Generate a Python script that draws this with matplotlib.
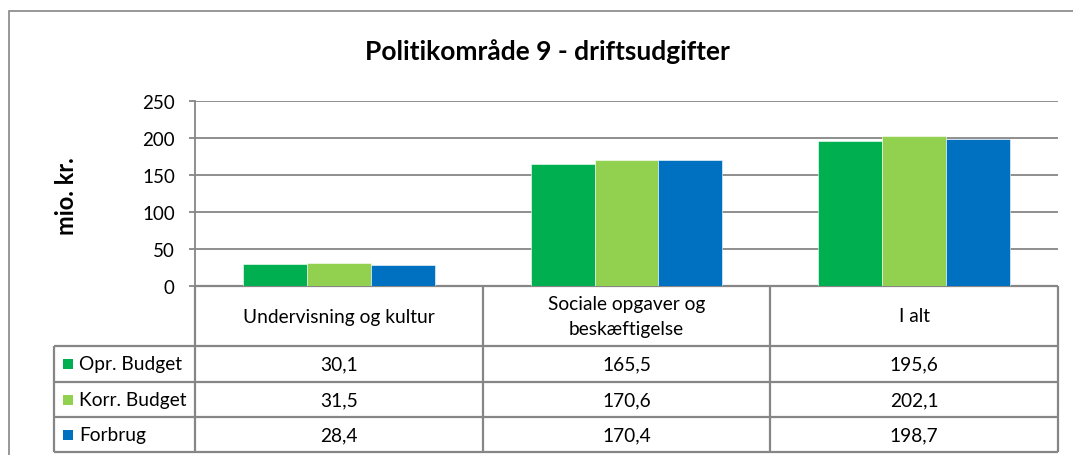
import matplotlib
matplotlib.use("Agg")
import matplotlib.pyplot as plt
import matplotlib.patches as mpatches
from matplotlib.transforms import blended_transform_factory
import numpy as np

# ── data ────────────────────────────────────────────────────────────────────
categories = ["Undervisning og kultur", "Sociale opgaver og\nbeskæftigelse", "I alt"]
series_names = ["Opr. Budget", "Korr. Budget", "Forbrug"]
opr_budget = [30.1, 165.5, 195.6]
korr_budget = [31.5, 170.6, 202.1]
forbrug = [28.4, 170.4, 198.7]
y_ticks = [0, 50, 100, 150, 200, 250]

title = "Politikområde 9 - driftsudgifter"
y_label = "mio. kr."

# ── style ───────────────────────────────────────────────────────────────────
COLORS = ["#00B050", "#92D050", "#0070C0"]
LINE_C = "#868686"
FONT = ["Lato", "DejaVu Sans"]
plt.rcParams["font.family"] = FONT
TXT = 13.8

W, H = 1073, 456
fig = plt.figure(figsize=(W / 100, H / 100), dpi=100)
fig.patch.set_facecolor("white")


def fx(px):
    return px / W


def fy(py):
    return 1 - py / H


# plot area in pixels
L, R, T, B = 195, 1058, 102, 287
ax = fig.add_axes([fx(L), fy(B), fx(R - L), (B - T) / H])

n_cat = len(categories)
x = np.arange(n_cat)
bw = 1 / 4.5
all_series = [opr_budget, korr_budget, forbrug]
for i, (vals, col) in enumerate(zip(all_series, COLORS)):
    ax.bar(x + (i - 1) * bw, vals, width=bw, color=col,
           edgecolor="white", linewidth=0.4, zorder=3)

ax.set_xlim(-0.5, n_cat - 0.5)
ax.set_ylim(0, 250)
ax.set_yticks(y_ticks)
ax.set_yticklabels([str(t) for t in y_ticks], fontsize=13.5)
ax.set_xticks([])
ax.yaxis.grid(True, color=LINE_C, linewidth=1.3, zorder=0)
ax.tick_params(axis="y", length=4.5, width=1.3, color=LINE_C, pad=10)
for s in ["top", "right", "bottom"]:
    ax.spines[s].set_visible(False)
ax.spines["left"].set_color(LINE_C)
ax.spines["left"].set_linewidth(1.3)

# title and y label
fig.text(fx(547), fy(52), title, ha="center", va="center",
         fontsize=19, fontweight="bold")
fig.text(fx(66), fy(196), y_label, ha="center", va="center",
         rotation=90, fontsize=17, fontweight="bold")

# outer chart border (cut off at right and bottom)
fig.add_artist(mpatches.Rectangle((fx(9), fy(470)), fx(1100), (470 - 12) / H,
                                  transform=fig.transFigure, fill=False,
                                  edgecolor=LINE_C, linewidth=1.2))

# ── data table ──────────────────────────────────────────────────────────────
tr = blended_transform_factory(ax.transData, fig.transFigure)
edges = np.arange(n_cat + 1) - 0.5
row_lines = [347, 383, 418, 453]
leg_left = 54

lkw = dict(color=LINE_C, linewidth=1.6, clip_on=False, solid_capstyle="butt")
# vertical category dividers
for e in edges:
    ax.plot([e, e], [fy(B), fy(row_lines[-1])], transform=tr, **lkw)
# horizontal row lines
for ry in row_lines:
    ax.plot([fx(leg_left), fx(R)], [fy(ry), fy(ry)],
            transform=fig.transFigure, **lkw)
ax.plot([fx(L), fx(R)], [fy(B), fy(B)], transform=fig.transFigure, **lkw)
# legend column left edge
ax.plot([fx(leg_left), fx(leg_left)], [fy(row_lines[0]), fy(row_lines[-1])],
        transform=fig.transFigure, **lkw)

# header row
for i, cat in enumerate(categories):
    ax.text(x[i], fy((B + row_lines[0]) / 2), cat, transform=tr,
            ha="center", va="center", fontsize=TXT, linespacing=1.6)

# value rows
for r, (name, vals, col) in enumerate(zip(series_names, all_series, COLORS)):
    top, bot = row_lines[r], row_lines[r + 1]
    cy = (top + bot) / 2
    fig.add_artist(mpatches.Rectangle((fx(63), fy(cy + 5)), fx(10), 10 / H,
                                      transform=fig.transFigure,
                                      facecolor=col, edgecolor="none"))
    fig.text(fx(79), fy(cy), name, ha="left", va="center", fontsize=TXT)
    for i, v in enumerate(vals):
        ax.text(x[i], fy(cy), f"{v:.1f}".replace(".", ","), transform=tr,
                ha="center", va="center", fontsize=TXT)

fig.savefig("out.png", dpi=100)
plt.close(fig)
